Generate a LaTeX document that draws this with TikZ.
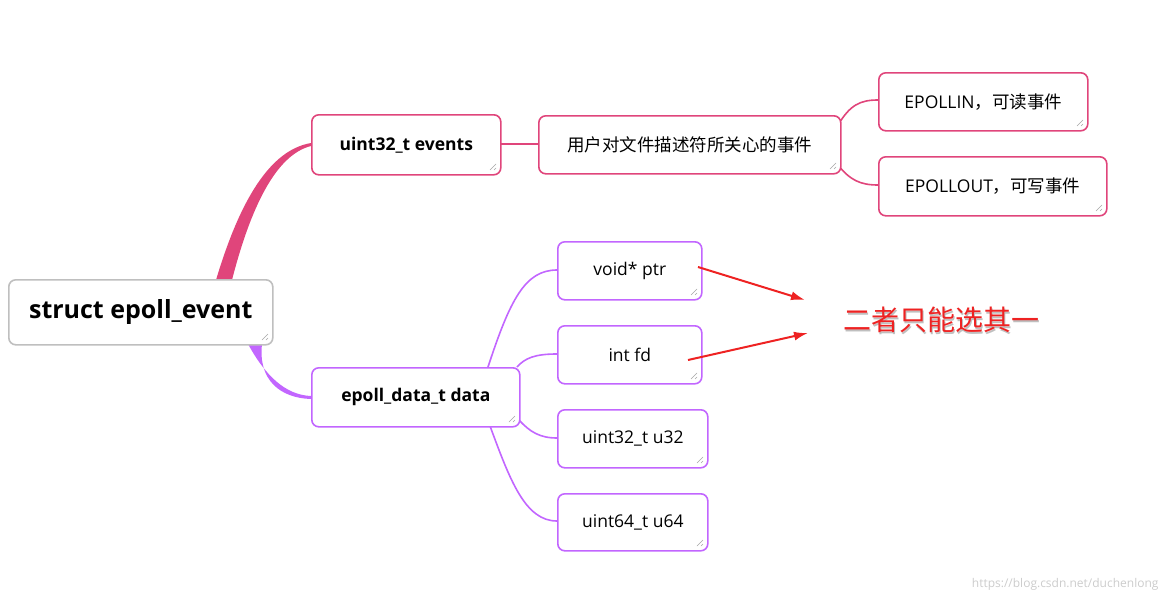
\documentclass[tikz,border=0pt]{standalone}
\usetikzlibrary{arrows.meta}
\usepackage{fontspec}
\setmainfont{Open Sans}
\newfontfamily\cjk{Noto Sans CJK SC}
\begin{document}
\definecolor{pk}{HTML}{E0457B}
\definecolor{pu}{HTML}{C266FF}
\definecolor{gr}{HTML}{BFBFBF}
\definecolor{rd}{HTML}{EE2222}
\begin{tikzpicture}[x=1pt,y=-1pt,
 box/.style={draw=#1,line width=1.6pt,rounded corners=7pt,fill=white,inner sep=0pt,font=\fontsize{17.5}{20}\selectfont},
 grip/.style={draw=gray!70,line width=0.5pt}]
\useasboundingbox (0,0) rectangle (1168,600);
\newcommand{\bx}[7]{% name, color, x1,y1,x2,y2, text
 \node[box=#2,minimum width=#5pt-#3pt,minimum height=#6pt-#4pt,anchor=north west] (#1) at (#3,#4) {#7};
 \draw[grip] (#5-4,#6-10)--(#5-10,#6-4) (#5-4,#6-6)--(#5-6,#6-4);}
% trunk connectors
\fill[pk] (216,280) .. controls (240,200) and (270,150) .. (311,143) -- (311,146) .. controls (275,155) and (250,210) .. (232,280) -- cycle;
\fill[pu] (248,344) .. controls (265,375) and (285,395) .. (311,396) -- (311,399) .. controls (280,398) and (258,380) .. (262,344) -- cycle;
% thin connectors
\draw[pk,line width=1.6pt] (500,144) -- (538,144);
\draw[pk,line width=1.6pt] (838,125) .. controls (850,105) and (860,100) .. (878,100);
\draw[pk,line width=1.6pt] (838,165) .. controls (850,180) and (860,185) .. (878,185);
\draw[pu,line width=1.6pt] (488,367) .. controls (510,300) and (525,270) .. (557,270);
\draw[pu,line width=1.6pt] (517,367) .. controls (525,358) and (535,354) .. (557,354);
\draw[pu,line width=1.6pt] (519,420) .. controls (530,432) and (540,438) .. (557,438);
\draw[pu,line width=1.6pt] (490,426) .. controls (510,480) and (525,521) .. (557,521);
\bx{root}{gr}{8}{279}{272}{344}{\fontsize{25}{28}\selectfont\bfseries struct epoll\_event}
\bx{ev}{pk}{311}{114}{500}{174}{\bfseries uint32\_t events}
\bx{desc}{pk}{538}{115}{840}{173}{\cjk 用户对文件描述符所关心的事件}
\bx{in}{pk}{878}{72}{1087}{130}{EPOLLIN\cjk ，可读事件}
\bx{out}{pk}{878}{156}{1106}{215}{EPOLLOUT\cjk ，可写事件}
\bx{data}{pu}{311}{367}{519}{426}{\bfseries epoll\_data\_t data}
\bx{ptr}{pu}{557}{241}{701}{299}{void* ptr}
\bx{fd}{pu}{557}{325}{701}{383}{int fd}
\bx{u32}{pu}{557}{409}{707}{467}{uint32\_t u32}
\bx{u64}{pu}{557}{493}{707}{550}{uint64\_t u64}
\node[text=gray!50,font=\cjk\fontsize{28}{32}\selectfont] at (942,322) {二者只能选其一};
\node[text=rd,font=\cjk\fontsize{28}{32}\selectfont] (note) at (941,320) {二者只能选其一};
\coordinate (a1) at (698,267); \coordinate (a2) at (688,360);
\draw[rd,line width=2pt,-{Latex[length=14pt,width=9pt]}] (a1) -- (805,300);
\draw[rd,line width=2pt,-{Latex[length=14pt,width=9pt]}] (a2) -- (808,333);
\node[anchor=south east,text=gray!40,font=\fontsize{12}{14}\selectfont] at (1162,594) {https://blog.csdn.net/duchenlong};
\end{tikzpicture}
\end{document}
